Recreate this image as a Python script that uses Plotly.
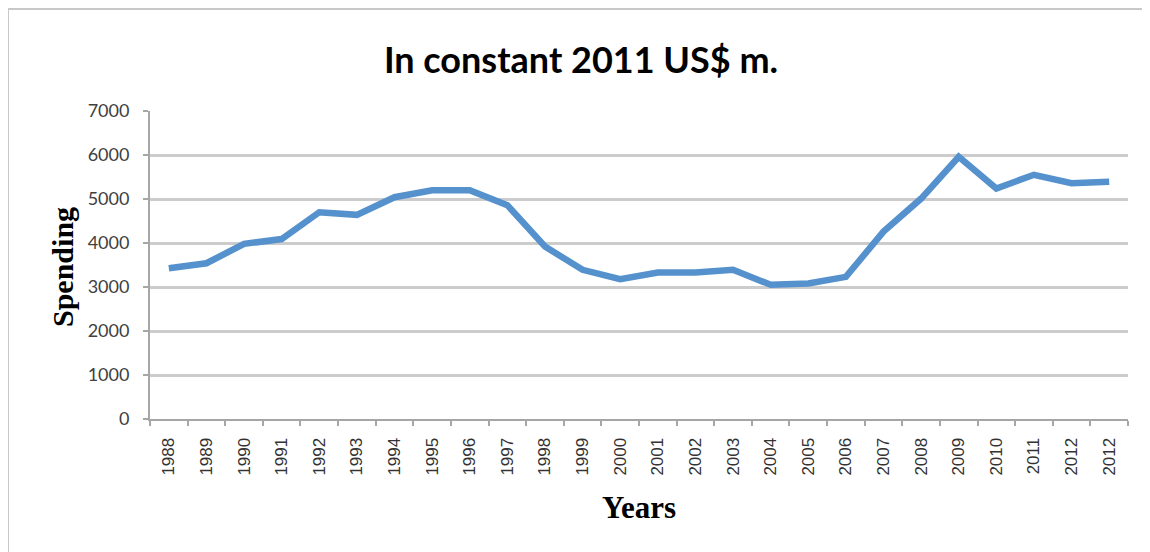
import plotly.graph_objects as go

years = ["1988", "1989", "1990", "1991", "1992", "1993", "1994", "1995", "1996",
         "1997", "1998", "1999", "2000", "2001", "2002", "2003", "2004", "2005",
         "2006", "2007", "2008", "2009", "2010", "2011", "2012", "2012"]
spending = [3425, 3540, 3980, 4090, 4700, 4640, 5040, 5200, 5200,
            4860, 3920, 3390, 3180, 3330, 3330, 3390, 3050, 3080,
            3230, 4260, 5010, 5960, 5240, 5550, 5360, 5390]
y_ticks = [0, 1000, 2000, 3000, 4000, 5000, 6000, 7000]

n = len(years)
xpos = list(range(n))

# page has an 8px body margin; figure is sized/positioned to compensate
W, H = 1142, 544
PL, PR, PT, PB = 142, 1120, 103, 411  # plot area in figure pixels
pw, ph = PR - PL, PB - PT


def px(xp):
    return (xp - 8 - PL) / pw


def py(yp):
    return (PB - (yp - 8)) / ph


fig = go.Figure()
fig.add_trace(go.Scatter(
    x=xpos, y=spending, mode="lines",
    line=dict(color="#5591CC", width=6.5),
    hoverinfo="skip", showlegend=False,
))

fig.update_layout(
    width=W, height=H,
    margin=dict(l=PL, r=W - PR, t=PT, b=H - PB),
    paper_bgcolor="white", plot_bgcolor="white",
    title=dict(text="In constant 2011 US$ m.", x=(581 - 8) / W, xanchor="center",
               xref="container",
               y=1 - (60 - 8) / H, yanchor="middle", yref="container",
               font=dict(family="Lato", size=36, color="#000000", weight="bold")),
    xaxis=dict(
        range=[-0.5, n - 0.5],
        tickmode="array", tickvals=xpos, ticktext=years, tickangle=-90,
        ticks="", showgrid=False, zeroline=False, ticklabelstandoff=10,
        showline=True, linecolor="#a6a6a6", linewidth=2,
        tickfont=dict(family="Liberation Sans", size=17, color="#333333"),
        minor=dict(tickmode="array", tickvals=[i - 0.5 for i in range(n + 1)],
                   ticks="outside", ticklen=5, tickcolor="#a6a6a6", tickwidth=2,
                   showgrid=False),
    ),
    yaxis=dict(
        range=[0, 7000], tickmode="array", tickvals=y_ticks,
        ticks="outside", ticklen=5, tickcolor="#a6a6a6", tickwidth=2,
        ticklabelstandoff=10,
        showgrid=True, gridcolor="#cccccc", gridwidth=2.5,
        zeroline=False, showline=True, linecolor="#a6a6a6", linewidth=2,
        tickfont=dict(family="Lato", size=18, color="#404040"),
    ),
    annotations=[
        dict(text="<b>Spending</b>", x=px(62), y=py(267), xref="paper", yref="paper",
             textangle=-90, showarrow=False, xanchor="center", yanchor="middle",
             font=dict(family="Liberation Serif", size=30, color="#000000")),
        dict(text="<b>Years</b>", x=px(639), y=py(508),
             xref="paper", yref="paper", showarrow=False,
             xanchor="center", yanchor="middle",
             font=dict(family="Liberation Serif", size=31, color="#000000")),
    ],
    shapes=[
        dict(type="rect", xref="paper", yref="paper",
             x0=px(8), x1=px(1147),
             y0=py(580), y1=py(9),
             line=dict(color="#c8c8c8", width=2), layer="below"),
    ],
)

fig.write_html("out.html")
